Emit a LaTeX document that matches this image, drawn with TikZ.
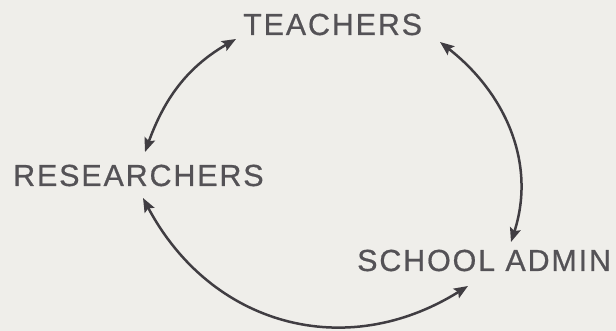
\documentclass[tikz,border=0pt]{standalone}
\usepackage{fontspec}
\setmainfont{Liberation Sans}
\usetikzlibrary{arrows.meta}
\definecolor{bgc}{HTML}{EFEEEA}
\definecolor{txtc}{HTML}{545256}
\definecolor{linec}{HTML}{403D42}
\newfontfamily\labfont[LetterSpace=6,FakeBold=0.6]{Liberation Sans}
\tikzset{
  lab/.style={inner sep=0pt, text=txtc, font=\labfont\fontsize{30.5}{32}\selectfont, anchor=base west},
  link/.style={draw=linec, line width=2.5pt, {Stealth[length=14pt,width=11pt,inset=2.5pt]}-{Stealth[length=14pt,width=11pt,inset=2.5pt]}}
}
\begin{document}
\begin{tikzpicture}[x=1pt,y=1pt]
\fill[bgc] (0,0) rectangle (616,331);
\useasboundingbox (0,0) rectangle (616,331);
\node[lab] (T) at (243,296) {TEACHERS};
\node[lab] (R) at (13,145) {RESEARCHERS};
\node[lab] (S) at (357,60) {SCHOOL ADMIN};
\draw[link] ([shift={(132,34)}]R.base west) to[out=70,in=210] ([shift={(-7,-4)}]T.base west);
\draw[link] ([shift={(197,-7)}]T.base west) to[out=-38,in=72] ([shift={(154,29)}]S.base west);
\draw[link] ([shift={(130,-12)}]R.base west) to[out=-62,in=212,looseness=1.1] ([shift={(111,-15)}]S.base west);
\end{tikzpicture}
\end{document}
